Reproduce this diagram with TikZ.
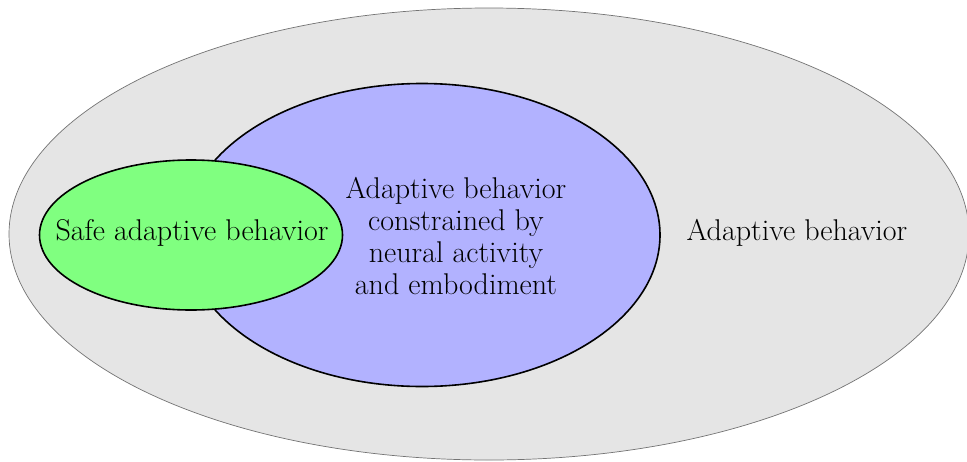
\documentclass[tikz,border=0pt]{standalone}
\usetikzlibrary{shapes.geometric}
\begin{document}
\begin{tikzpicture}[x=1pt,y=-1pt,
  blob/.style={ellipse, inner sep=0pt},
  lbl/.style={font=\fontsize{30}{32}\selectfont, align=center, inner sep=0pt}]
\useasboundingbox (0,0) rectangle (967,461);
\node[blob, draw=gray!90!black, line width=0.7pt, fill=gray!20, minimum width=960pt, minimum height=452pt] (outer) at (489,234) {};
\node[blob, draw=black, line width=1.6pt, fill=blue!30, minimum width=476pt, minimum height=303pt] (mid) at (422,235) {};
\node[blob, draw=black, line width=1.6pt, fill=green!50, minimum width=303pt, minimum height=150pt] (safe) at (191,235) {};
\node[lbl] (tsafe) at (192,233) {Safe adaptive behavior};
\node[lbl] (tmid) at (456,236) {Adaptive behavior\\constrained by\\neural activity\\and embodiment};
\node[lbl] (touter) at (797,233) {Adaptive behavior};
\end{tikzpicture}
\end{document}
